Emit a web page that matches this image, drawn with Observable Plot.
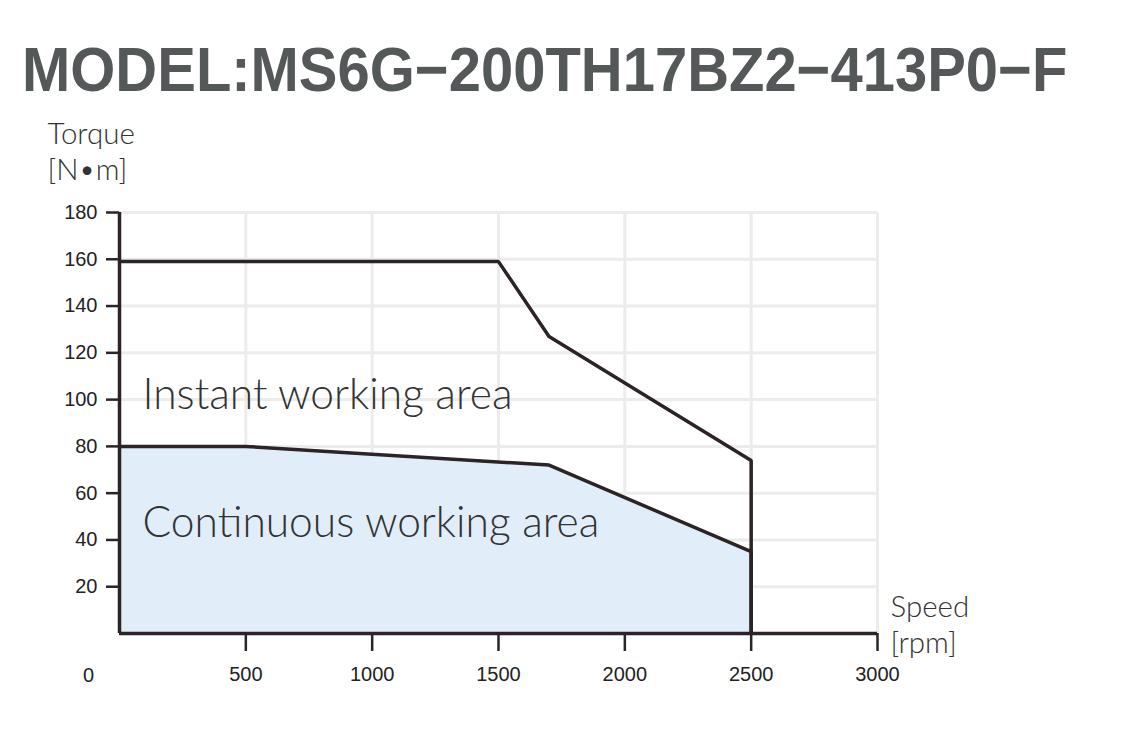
<!DOCTYPE html>
<html>
<head>
<meta charset="utf-8">
<script src="https://cdn.jsdelivr.net/npm/d3@7"></script>
<script src="https://cdn.jsdelivr.net/npm/@observablehq/plot@0.6"></script>
<style>
  html, body { margin: 0; padding: 0; background: #fff; }
  #wrap { position: relative; width: 1129px; height: 729px; overflow: hidden; }
  #title { position: absolute; left: 22px; top: 38px; font-family: "Liberation Sans", Arial, sans-serif;
           font-weight: bold; font-size: 63px; line-height: 1; color: #555859; letter-spacing: 0px; white-space: nowrap;
           transform: scaleX(0.92); transform-origin: 0 0; }
  #chart { position: absolute; left: 0; top: 110px; }
</style>
</head>
<body>
<div id="wrap">
  <div id="title">MODEL:MS6G−200TH17BZ2−413P0−F</div>
  <div id="chart"></div>
</div>
<script>
const titleText = "MODEL:MS6G−200TH17BZ2−413P0−F";
const xTicks = [500, 1000, 1500, 2000, 2500, 3000];
const yTicks = [20, 40, 60, 80, 100, 120, 140, 160, 180];
const instantSpeed = [0, 1500, 1700, 2500, 2500];
const instantTorque = [159, 159, 127, 74, 0];
const contSpeed = [0, 500, 1700, 2500, 2500];
const contTorque = [80, 80, 72, 35, 0];
const areaLabels = ["Instant working area", "Continuous working area"];
const areaLabelSpeed = [91, 91];
const areaLabelTorque = [102, 47];
const yLabelLines = ["Torque", "[N•m]"];
const xLabelLines = ["Speed", "[rpm]"];

document.getElementById("title").textContent = titleText;

const instant = instantSpeed.map((s, i) => ({speed: s, torque: instantTorque[i]}));
const cont = contSpeed.map((s, i) => ({speed: s, torque: contTorque[i]}));
const labels = areaLabels.map((t, i) => ({text: t, speed: areaLabelSpeed[i], torque: areaLabelTorque[i]}));

const ink = "#2b2324";
const grid = "#ececec";
const labelFont = "Lato, 'Noto Sans', sans-serif";
const axisLabelStyle = {textAnchor: "start", lineAnchor: "top", fontSize: 29.5, fontFamily: labelFont, fontWeight: 300, fill: "#333"};

const chart = Plot.plot({
  width: 1129,
  height: 619,
  marginLeft: 119,
  marginRight: 252,
  marginTop: 102,
  marginBottom: 96,
  x: {domain: [0, 3000]},
  y: {domain: [0, 180]},
  style: {fontFamily: "'Liberation Sans', Arial, sans-serif", background: "#fff", overflow: "visible"},
  marks: [
    Plot.ruleX(xTicks, {y1: 0, y2: 180, stroke: grid, strokeWidth: 3}),
    Plot.ruleY(yTicks, {x1: 0, x2: 3000, stroke: grid, strokeWidth: 3}),
    Plot.areaY(cont, {x: "speed", y: "torque", fill: "#e1eefa"}),
    Plot.line(instant, {x: "speed", y: "torque", stroke: ink, strokeWidth: 3.5, strokeLinejoin: "miter"}),
    Plot.line(cont, {x: "speed", y: "torque", stroke: ink, strokeWidth: 3.5, strokeLinejoin: "miter"}),
    Plot.axisY(yTicks, {tickSize: 13, tickPadding: 9, fontSize: 20, stroke: ink, strokeWidth: 2.5, color: "#222",
      tickFormat: d => String(d), label: null}),
    Plot.axisX(xTicks, {tickSize: 18, tickPadding: 15, fontSize: 20, stroke: ink, strokeWidth: 2.5, color: "#222",
      tickFormat: d => String(d), label: null}),
    Plot.text([0], {x: 0, y: 0, text: d => String(d), dx: -31, dy: 42, fontSize: 20, fill: "#222"}),
    Plot.ruleX([0], {y1: 0, y2: 180, stroke: ink, strokeWidth: 3.5}),
    Plot.ruleY([0], {x1: 0, x2: 3000, stroke: ink, strokeWidth: 3.5}),
    Plot.text(labels, {x: "speed", y: "torque", text: "text", textAnchor: "start", fontSize: 42.5,
      fontFamily: labelFont, fontWeight: 300, fill: "#333"}),
    Plot.text([yLabelLines[0]], {frameAnchor: "top-left", dx: -72, dy: -89, ...axisLabelStyle}),
    Plot.text([yLabelLines[1]], {frameAnchor: "top-left", dx: -72, dy: -53, ...axisLabelStyle}),
    Plot.text([xLabelLines[0]], {frameAnchor: "bottom-right", dx: 13, dy: -37, ...axisLabelStyle}),
    Plot.text([xLabelLines[1]], {frameAnchor: "bottom-right", dx: 13, dy: -1, ...axisLabelStyle})
  ]
});
document.getElementById("chart").appendChild(chart);
</script>
</body>
</html>
